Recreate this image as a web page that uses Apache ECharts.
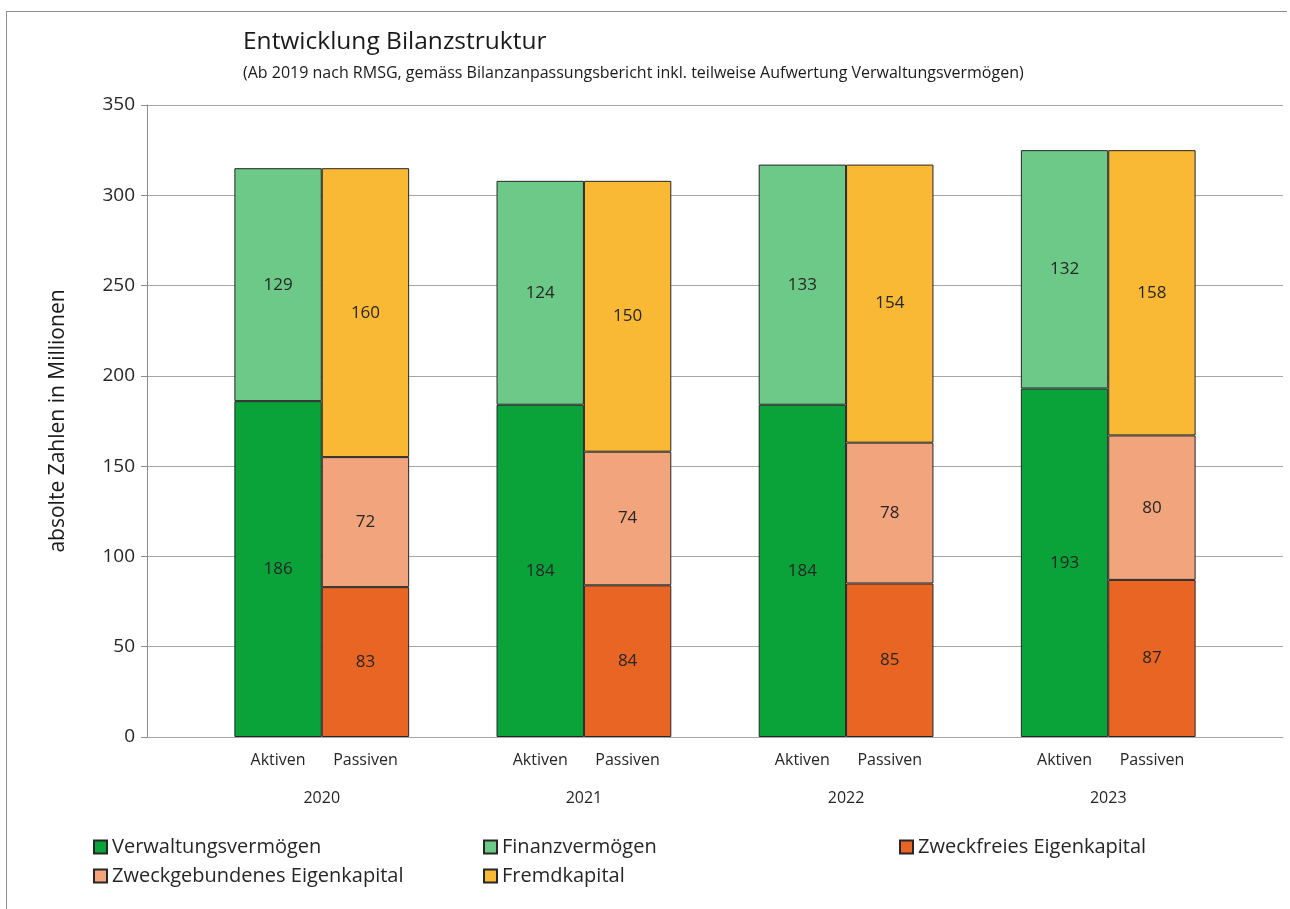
<!DOCTYPE html>
<html>
<head>
<meta charset="utf-8">
<script src="https://cdn.jsdelivr.net/npm/echarts@6/dist/echarts.min.js"></script>
<style>
    html, body { margin: 0; padding: 0; background: #ffffff; }
    #chart { width: 1290px; height: 909px; }
    #frame {
        position: absolute; left: 6px; top: 11px; width: 1280px; height: 898px;
        border-top: 1px solid #8c8c8c; border-left: 1px solid #8c8c8c;
        pointer-events: none;
    }
</style>
</head>
<body>
<div id="chart"></div>
<div id="frame"></div>
<script>
// 13 slots: gap, Aktiven, Passiven, gap, ... (Excel-like spacing)
const slots = ['', 'Aktiven', 'Passiven', '', 'Aktiven', 'Passiven', '', 'Aktiven', 'Passiven', '', 'Aktiven', 'Passiven', ''];
const years = ['2020', '2021', '2022', '2023'];

const verwaltungsvermoegen = [186, 184, 184, 193];
const finanzvermoegen = [129, 124, 133, 132];
const zweckfreiesEK = [83, 84, 85, 87];
const zweckgebundenesEK = [72, 74, 78, 80];
const fremdkapital = [160, 150, 154, 158];

// put the yearly values on the Aktiven (1) or Passiven (2) slot of each group
function toSlots(values, offset) {
    const out = slots.map(() => '-');
    values.forEach((v, i) => { out[i * 3 + offset] = v; });
    return out;
}

// half-slot labels for the year row (centred between the two bars)
const yearLabels = [];
for (let i = 0; i <= 26; i++) yearLabels.push('');
years.forEach((y, i) => { yearLabels[4 + i * 6] = y; });

const font = '"Open Sans", "Noto Sans", sans-serif';

function barSeries(name, color, values, offset) {
    return {
        name: name,
        type: 'bar',
        stack: 'total',
        data: toSlots(values, offset),
        barWidth: '100%',
        itemStyle: { color: color, borderColor: '#262626', borderWidth: 1 },
        label: {
            show: true, position: 'inside', color: '#262626',
            fontFamily: font, fontSize: 17
        },
        emphasis: { disabled: true }
    };
}

function legendItem(name, left, top) {
    return {
        data: [name], left: left, top: top, padding: 0,
        icon: 'rect', itemWidth: 13, itemHeight: 13, itemGap: 4,
        selectedMode: false,
        textStyle: { fontFamily: font, fontSize: 20, color: '#262626' }
    };
}

const chart = echarts.init(document.getElementById('chart'));
chart.setOption({
    animation: false,
    title: {
        text: 'Entwicklung Bilanzstruktur',
        subtext: '(Ab 2019 nach RMSG, gemäss Bilanzanpassungsbericht inkl. teilweise Aufwertung Verwaltungsvermögen)',
        left: 238, top: 25, itemGap: 10,
        textStyle: { fontFamily: font, fontSize: 24.5, fontWeight: 'normal', color: '#1a1a1a' },
        subtextStyle: { fontFamily: font, fontSize: 16, color: '#1a1a1a' }
    },
    legend: [
        legendItem('Verwaltungsvermögen', 93, 837),
        legendItem('Finanzvermögen', 483, 837),
        legendItem('Zweckfreies Eigenkapital', 899, 837),
        legendItem('Zweckgebundenes Eigenkapital', 93, 866),
        legendItem('Fremdkapital', 483, 866)
    ],
    grid: { left: 147, right: 7, top: 105, bottom: 172, containLabel: false },
    xAxis: [
        {
            type: 'category',
            data: slots,
            axisLine: { lineStyle: { color: '#a6a6a6', width: 1 } },
            axisTick: { show: false },
            axisLabel: { interval: 0, margin: 15, fontFamily: font, fontSize: 16, color: '#262626' }
        },
        {
            type: 'category',
            data: yearLabels,
            boundaryGap: false,
            position: 'bottom',
            offset: 38,
            axisLine: { show: false },
            axisTick: { show: false },
            axisLabel: { interval: 0, margin: 15, fontFamily: font, fontSize: 16, color: '#262626' }
        }
    ],
    yAxis: {
        type: 'value',
        min: 0, max: 350, interval: 50,
        name: 'absolte Zahlen in Millionen',
        nameLocation: 'middle',
        nameGap: 78,
        nameTextStyle: { fontFamily: font, fontSize: 21, color: '#1a1a1a' },
        axisLine: { show: true, lineStyle: { color: '#8c8c8c' } },
        axisTick: { show: true, length: 6, lineStyle: { color: '#8c8c8c' } },
        axisLabel: { margin: 12, fontFamily: font, fontSize: 19, color: '#262626' },
        splitLine: { lineStyle: { color: '#a6a6a6', width: 1 } }
    },
    series: [
        barSeries('Verwaltungsvermögen', '#0aa33a', verwaltungsvermoegen, 1),
        barSeries('Finanzvermögen', '#6cc987', finanzvermoegen, 1),
        barSeries('Zweckfreies Eigenkapital', '#e96523', zweckfreiesEK, 2),
        barSeries('Zweckgebundenes Eigenkapital', '#f2a47d', zweckgebundenesEK, 2),
        barSeries('Fremdkapital', '#f9b934', fremdkapital, 2)
    ]
});
</script>
</body>
</html>
